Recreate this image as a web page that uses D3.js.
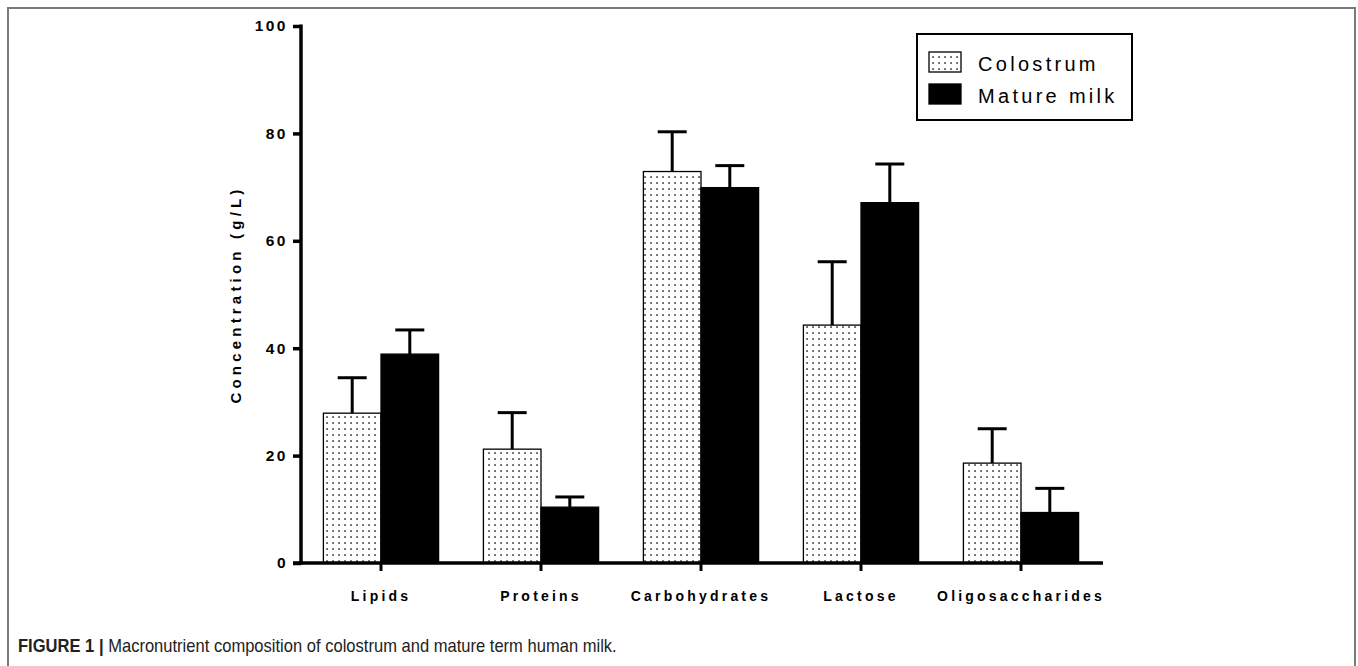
<!DOCTYPE html>
<html><head><meta charset="utf-8">
<script src="https://cdn.jsdelivr.net/npm/d3@7"></script>
<style>
html,body{margin:0;padding:0;background:#fff;}
svg{display:block;}
</style></head>
<body>
<svg id="chart" width="1358" height="666"></svg>
<script>
const categories = ["Lipids", "Proteins", "Carbohydrates", "Lactose", "Oligosaccharides"];
const seriesNames = ["Colostrum", "Mature milk"];
const colostrum = [27.9, 21.2, 72.9, 44.3, 18.6];
const colostrumErr = [6.6, 6.8, 7.4, 11.8, 6.4];
const mature = [38.9, 10.4, 69.9, 67.1, 9.4];
const matureErr = [4.5, 1.9, 4.1, 7.2, 4.5];
const yTicks = [0, 20, 40, 60, 80, 100];

const svg = d3.select("#chart");
const defs = svg.append("defs");
const pat = defs.append("pattern").attr("id","dots").attr("patternUnits","userSpaceOnUse")
  .attr("width",6).attr("height",6);
pat.append("rect").attr("width",6).attr("height",6).attr("fill","#fff");
pat.append("rect").attr("x",2.3).attr("y",2.3).attr("width",1.5).attr("height",1.5).attr("fill","#111");

// frame
svg.append("path").attr("d","M8,666 L8,8 L1355,8 L1355,666").attr("fill","none")
  .attr("stroke","#7a7a7a").attr("stroke-width",2);

const x0 = 301, x1 = 1101, yBottom = 563, yTop = 26;
const x = d3.scaleBand().domain(categories).range([x0, x1]).paddingInner(0.28).paddingOuter(0.14);
const xs = d3.scaleBand().domain(seriesNames).range([0, x.bandwidth()]);
const y = d3.scaleLinear().domain([0, 100]).range([yBottom, yTop]);

const data = categories.map((c,i)=>[
  {cat:c, s:"Colostrum", v:colostrum[i], e:colostrumErr[i]},
  {cat:c, s:"Mature milk", v:mature[i], e:matureErr[i]}
]).flat();

const fill = s => s==="Colostrum" ? "url(#dots)" : "#000";

// error bars (behind bars)
const eb = svg.append("g");
data.forEach(d=>{
  const cx = x(d.cat) + xs(d.s) + xs.bandwidth()/2;
  eb.append("line").attr("x1",cx).attr("x2",cx).attr("y1",y(d.v)).attr("y2",y(d.v+d.e))
    .attr("stroke","#000").attr("stroke-width",3);
  eb.append("line").attr("x1",cx-14.5).attr("x2",cx+14.5).attr("y1",y(d.v+d.e)).attr("y2",y(d.v+d.e))
    .attr("stroke","#000").attr("stroke-width",3);
});

svg.append("g").selectAll("rect").data(data).join("rect")
  .attr("x", d=>x(d.cat)+xs(d.s))
  .attr("y", d=>y(d.v))
  .attr("width", xs.bandwidth())
  .attr("height", d=>y(0)-y(d.v))
  .attr("fill", d=>fill(d.s))
  .attr("stroke","#000").attr("stroke-width",1.3);

// y axis
const yAxis = svg.append("g").attr("transform",`translate(${x0},0)`)
  .call(d3.axisLeft(y).tickValues(yTicks).tickSize(8).tickPadding(5).tickFormat(d3.format("d")));
yAxis.select(".domain").attr("stroke","#000").attr("stroke-width",3.5)
  .attr("d",`M0,${yTop-1.5}V${yBottom+1.5}`);
yAxis.selectAll(".tick line").attr("stroke","#000").attr("stroke-width",3.5);
yAxis.selectAll(".tick text").attr("font-family","Liberation Sans, Arial, sans-serif")
  .attr("font-weight","bold").attr("font-size",15.5).attr("fill","#000")
  .style("letter-spacing","2.5px");

// x axis
const xAxis = svg.append("g").attr("transform",`translate(0,${yBottom})`)
  .call(d3.axisBottom(x).tickSize(8).tickPadding(20));
xAxis.select(".domain").attr("stroke","#000").attr("stroke-width",3.5)
  .attr("d",`M${x0-8},0H${x1+2}`);
xAxis.selectAll(".tick line").attr("stroke","#000").attr("stroke-width",3);
xAxis.selectAll(".tick text").attr("font-family","Liberation Sans, Arial, sans-serif")
  .attr("font-weight","bold").attr("font-size",14).attr("fill","#000")
  .style("letter-spacing","3.2px");

// y label
svg.append("text").attr("transform",`translate(241,${(yTop+yBottom)/2}) rotate(-90)`)
  .attr("text-anchor","middle")
  .attr("font-family","Liberation Sans, Arial, sans-serif").attr("font-weight","bold")
  .attr("font-size",15).style("letter-spacing","4.2px")
  .text("Concentration (g/L)");

// legend
const lg = svg.append("g");
lg.append("rect").attr("x",917).attr("y",34).attr("width",215).attr("height",86)
  .attr("fill","#fff").attr("stroke","#000").attr("stroke-width",2);
seriesNames.forEach((s,i)=>{
  const yy = 52 + i*32;
  lg.append("rect").attr("x",929).attr("y",yy).attr("width",32).attr("height",20)
    .attr("fill",fill(s)).attr("stroke","#000").attr("stroke-width",1.3);
  lg.append("text").attr("x",978).attr("y",yy+19)
    .attr("font-family","Liberation Sans, Arial, sans-serif").attr("font-size",20)
    .style("letter-spacing","3.3px").text(s);
});

// caption
const cap = svg.append("text").attr("transform","translate(18,652) scale(0.92,1)")
  .attr("font-family","Liberation Sans, Arial, sans-serif").attr("font-size",18).attr("fill","#222");
cap.append("tspan").attr("font-weight","bold").text("FIGURE 1 | ");
cap.append("tspan").text("Macronutrient composition of colostrum and mature term human milk.");
</script>
</body></html>
